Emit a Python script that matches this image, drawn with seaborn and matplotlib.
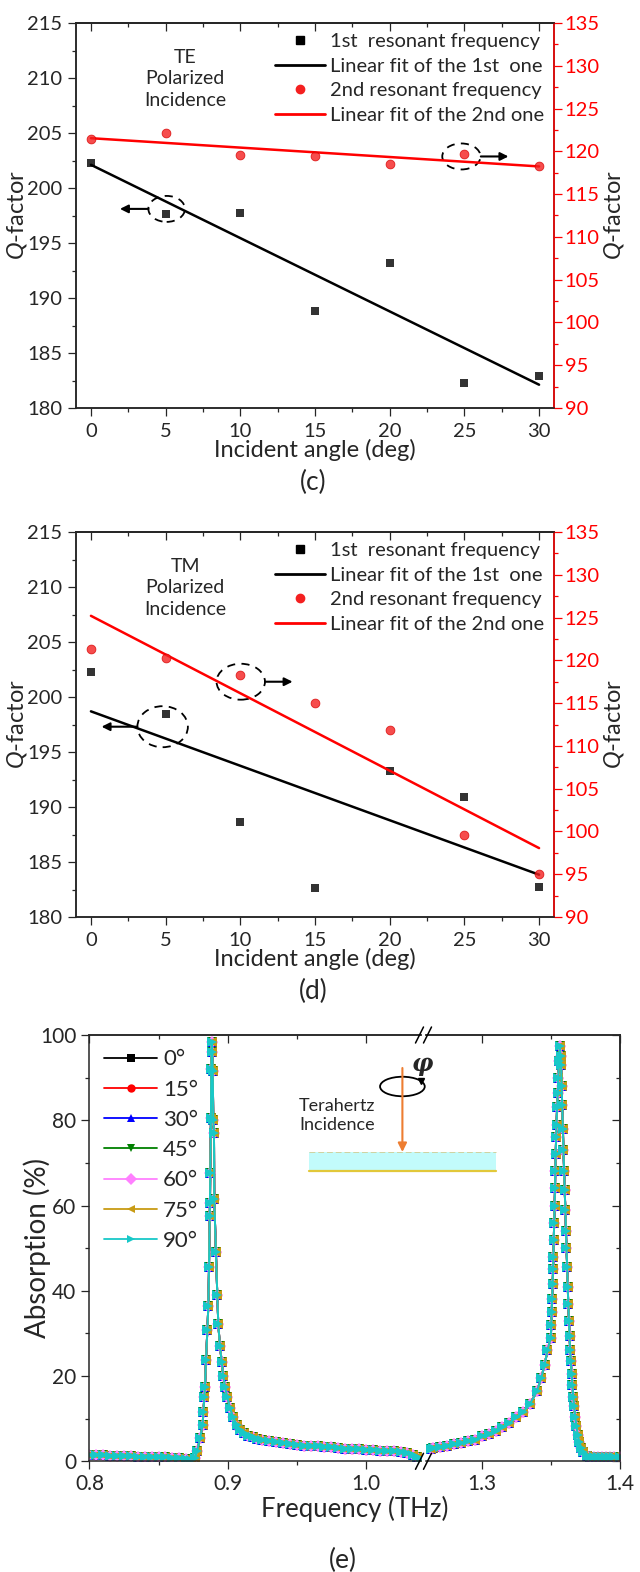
import numpy as np
import pandas as pd
import matplotlib.pyplot as plt
import seaborn as sns
from matplotlib.lines import Line2D
from matplotlib.patches import Ellipse, Rectangle
from matplotlib.ticker import MultipleLocator

# Q-factor vs incident angle
angles = np.array([0, 5, 10, 15, 20, 25, 30])
te_q1 = np.array([202.3, 197.6, 197.7, 188.8, 193.2, 182.3, 182.9])
te_q2 = np.array([121.4, 122.2, 119.6, 119.5, 118.5, 119.7, 118.3])
tm_q1 = np.array([202.3, 198.5, 188.6, 182.6, 193.3, 190.9, 182.7])
tm_q2 = np.array([121.3, 120.3, 118.3, 115.0, 111.9, 99.6, 95.0])
q_legend = ['1st  resonant frequency', 'Linear fit of the 1st  one',
            '2nd resonant frequency', 'Linear fit of the 2nd one']

# absorption spectra for the rotation angles (all curves overlap)
rot_labels = ['0°', '15°', '30°', '45°', '60°', '75°', '90°']
rot_colors = ['black', '#ff0000', '#0000ff', '#008000', '#ff80ff', '#c89b14', '#18c8c8']
rot_markers = ['s', 'o', '^', 'v', 'D', '<', '>']

freq_low = [0.800, 0.805, 0.810, 0.815, 0.820, 0.825, 0.830, 0.835, 0.840, 0.845, 0.850, 0.855, 0.860, 0.865, 0.870, 0.8735,
            0.8764, 0.8780, 0.8800, 0.8819, 0.8824, 0.8831, 0.8836, 0.8843, 0.8853, 0.8860, 0.8865, 0.8870, 0.8872, 0.8874, 0.8879, 0.8881, 0.8884,
            0.8889, 0.8892, 0.8896, 0.8901, 0.8903, 0.8915, 0.8925, 0.8932, 0.8944, 0.8957, 0.8968, 0.8981, 0.8997, 0.9017, 0.9040, 0.9065,
            0.9090, 0.9120, 0.9150, 0.9180, 0.9210, 0.9250, 0.9300, 0.9350, 0.9400, 0.9450, 0.9500, 0.9550, 0.9600, 0.9650, 0.9700, 0.9750,
            0.9800, 0.9850, 0.9900, 0.9950, 1.0000, 1.0050, 1.0100, 1.0150, 1.0200, 1.0250, 1.0300, 1.0340, 1.0370, 1.0395]
abs_low = [1.5, 1.4, 1.4, 1.3, 1.3, 1.2, 1.2, 1.1, 1.1, 1.0, 1.0, 0.9, 0.8, 0.7, 0.5, 0.3,
           0.7, 2.5, 5.4, 8.5, 11.6, 15.0, 17.5, 23.7, 30.7, 36.5, 45.5, 57.5, 60.7, 67.7, 80.5, 92.0, 98.4,
           96.0, 91.5, 80.0, 77.0, 61.5, 49.0, 39.0, 32.2, 27.0, 23.4, 20.0, 17.5, 15.0, 12.5, 10.3, 8.6,
           7.4, 6.6, 6.0, 5.6, 5.3, 5.0, 4.7, 4.5, 4.3, 4.1, 3.9, 3.7, 3.6, 3.5, 3.4, 3.3,
           3.1, 3.0, 2.9, 2.8, 2.7, 2.6, 2.5, 2.4, 2.3, 2.2, 1.9, 1.5, 1.0, 0.5]

freq_high = [1.2632, 1.2650, 1.2700, 1.2750, 1.2800, 1.2850, 1.2900, 1.2950, 1.3000, 1.3050, 1.3100, 1.3150, 1.3200, 1.3250, 1.3300, 1.3350, 1.3400, 1.3430, 1.3455, 1.3475,
             1.3500, 1.3503, 1.3506, 1.3509, 1.3513, 1.3516, 1.3518, 1.3521, 1.3524, 1.3527, 1.3530, 1.3532, 1.3535, 1.3538, 1.3541, 1.3545, 1.3550, 1.3554, 1.3559, 1.3565,
             1.3570, 1.3574, 1.3578, 1.3582, 1.3587, 1.3591, 1.3596, 1.3600, 1.3605, 1.3609, 1.3613, 1.3618, 1.3622, 1.3626, 1.3631, 1.3635, 1.3640, 1.3644, 1.3650,
             1.3656, 1.3662, 1.3668, 1.3676, 1.3685, 1.3695, 1.3706, 1.3720, 1.3735, 1.3760, 1.3780, 1.3810, 1.3840, 1.3870, 1.3900, 1.3930, 1.3960, 1.4000]
abs_high = [3.0, 3.1, 3.4, 3.7, 4.0, 4.3, 4.7, 5.1, 5.9, 6.5, 7.2, 8.0, 9.0, 10.3, 11.5, 13.5, 16.5, 19.5, 22.6, 26.0,
            29.0, 32.0, 35.0, 38.0, 41.7, 45.0, 48.0, 52.0, 56.0, 60.0, 64.0, 68.0, 72.0, 76.0, 79.0, 83.0, 86.5, 90.0, 94.0, 97.4,
            95.0, 93.0, 88.0, 83.6, 78.0, 73.0, 68.0, 63.6, 59.0, 54.0, 50.0, 45.5, 41.0, 36.9, 33.0, 29.3, 26.0, 23.5, 20.5,
            17.8, 15.2, 13.0, 10.5, 8.3, 6.2, 4.5, 3.2, 2.1, 1.3, 1.0, 0.9, 0.9, 0.9, 0.9, 0.9, 0.9, 0.9]

sns.set_style('ticks')
plt.rcParams['font.family'] = ['Lato', 'DejaVu Sans']
plt.rcParams['mathtext.fontset'] = 'custom'
plt.rcParams['mathtext.it'] = 'Lato:italic'
plt.rcParams['mathtext.rm'] = 'Lato'
plt.rcParams['axes.linewidth'] = 1.1

W, H = 640, 1572
fig = plt.figure(figsize=(W / 100, H / 100), dpi=100)


def px_rect(x0, y0, x1, y1):
    return [x0 / W, 1 - y1 / H, (x1 - x0) / W, (y1 - y0) / H]


def q_panel(box, q1, q2, pol, black_mark, red_mark):
    ax = fig.add_axes(px_rect(*box))
    ax2 = ax.twinx()
    sns.regplot(x=angles, y=q1, ax=ax, ci=None, marker='s', color='black',
                scatter_kws={'s': 32, 'linewidths': 0, 'zorder': 3}, line_kws={'lw': 1.8})
    sns.regplot(x=angles, y=q2, ax=ax2, ci=None, marker='o', color='#f42020',
                scatter_kws={'s': 40, 'linewidths': 0.6, 'edgecolors': '#d80000', 'zorder': 3},
                line_kws={'lw': 1.8, 'color': '#ff0000'})
    ax.set_xlim(-1, 31)
    ax.set_ylim(180, 215)
    ax2.set_ylim(90, 135)
    ax.set_xlabel('Incident angle (deg)', fontsize=17)
    ax.set_ylabel(r'$\mathit{Q}$-factor', fontsize=17)
    ax2.set_ylabel(r'$\mathit{Q}$-factor', fontsize=17)
    ax.xaxis.set_label_coords(0.5, -0.08)
    ax.yaxis.set_label_coords(-0.099, 0.5)
    ax2.yaxis.set_label_coords(1.10, 0.5)
    for a in (ax.xaxis, ax.yaxis, ax2.yaxis):
        a.set_major_locator(MultipleLocator(5))
        a.set_minor_locator(MultipleLocator(2.5))
    ax.tick_params(which='major', length=5.8, width=0.9, labelsize=14.5, pad=4.2)
    ax.tick_params(which='minor', length=3, width=0.9)
    ax.tick_params(axis='x', pad=5)
    ax2.tick_params(which='major', length=5.8, width=0.9, labelsize=14.5, pad=2)
    ax2.tick_params(which='minor', length=3, width=0.9)
    ax2.tick_params(axis='y', which='both', colors='#ff0000')
    ax2.spines['right'].set_color('#ff0000')
    top = ax.secondary_xaxis('top')
    top.xaxis.set_major_locator(MultipleLocator(5))
    top.xaxis.set_minor_locator(MultipleLocator(2.5))
    top.tick_params(which='both', direction='in', labeltop=False, width=0.9)
    top.tick_params(which='major', length=5.8)
    top.tick_params(which='minor', length=3)

    ax.text(6.3, 0.855, pol, transform=ax.get_xaxis_transform(), ha='center', va='center',
            fontsize=14, linespacing=1.34)

    for a, (cx, cy, w, h, x0, x1) in ((ax, black_mark), (ax2, red_mark)):
        a.add_patch(Ellipse((cx, cy), w, h, fill=False, ec='black', lw=1.3, ls=(0, (4.5, 3.5))))
        a.annotate('', xy=(x1, cy), xytext=(x0, cy),
                   arrowprops=dict(arrowstyle='-|>', color='black', lw=1.5, mutation_scale=12,
                                   shrinkA=0, shrinkB=0))

    handles = [Line2D([], [], ls='none', marker='s', color='black', ms=5.5),
               Line2D([], [], color='black', lw=2),
               Line2D([], [], ls='none', marker='o', color='#f42020', ms=6),
               Line2D([], [], color='#ff0000', lw=2)]
    ax2.legend(handles, q_legend, loc='upper right', bbox_to_anchor=(1.0, 1.0), frameon=False,
               fontsize=14.5, handlelength=2.45, handletextpad=0.25, labelspacing=0.37,
               borderaxespad=0.2, borderpad=0.3)
    return ax, ax2


q_panel((76, 23, 554, 408), te_q1, te_q2, 'TE\nPolarized\nIncidence',
        (5.07, 198.1, 2.45, 2.36, 3.85, 1.94), (24.8, 119.4, 2.56, 3.04, 26.1, 27.95))
q_panel((76, 532, 554, 917), tm_q1, tm_q2, 'TM\nPolarized\nIncidence',
        (4.8, 197.3, 3.38, 3.73, 3.1, 0.71), (10.03, 117.5, 3.24, 4.2, 11.66, 13.5))

# absorption panel with broken frequency axis
ax_l = fig.add_axes(px_rect(89.4, 1035, 421, 1461.3))
ax_r = fig.add_axes(px_rect(426, 1035, 620, 1461.3))
for lab, col, mk in zip(rot_labels, rot_colors, rot_markers):
    for a, fx, ay in ((ax_l, freq_low, abs_low), (ax_r, freq_high, abs_high)):
        sns.lineplot(x=fx, y=ay, ax=a, color=col, marker=mk,
                     markersize=6.0 if mk == 'D' else 6.8, markeredgewidth=0,
                     lw=1.4, estimator=None, sort=False, legend=False)
ax_l.set_xlim(0.8, 1.0398)
ax_r.set_xlim(1.2597, 1.4)
for a in (ax_l, ax_r):
    a.set_ylim(0, 100)
    a.xaxis.set_major_locator(MultipleLocator(0.1))
    a.xaxis.set_minor_locator(MultipleLocator(0.05))
    a.tick_params(which='major', length=5.8, width=0.9, labelsize=15, pad=3.5)
    a.tick_params(which='minor', length=3, width=0.9)
    top = a.secondary_xaxis('top')
    top.xaxis.set_major_locator(MultipleLocator(0.1))
    top.xaxis.set_minor_locator(MultipleLocator(0.05))
    top.tick_params(which='both', direction='in', labeltop=False, width=0.9)
    top.tick_params(which='major', length=5.8)
    top.tick_params(which='minor', length=3)
ax_l.yaxis.set_major_locator(MultipleLocator(20))
ax_l.yaxis.set_minor_locator(MultipleLocator(10))
ax_l.spines['right'].set_visible(False)
ax_r.spines['left'].set_visible(False)
ax_r.tick_params(axis='y', which='both', left=False, labelleft=False)
rsec = ax_r.secondary_yaxis('right')
rsec.yaxis.set_major_locator(MultipleLocator(20))
rsec.yaxis.set_minor_locator(MultipleLocator(10))
rsec.tick_params(which='both', direction='in', labelright=False, width=0.9)
rsec.tick_params(which='major', length=5.8)
rsec.tick_params(which='minor', length=3)
ax_l.set_xlabel('')
ax_r.set_xlabel('')
ax_r.set_ylabel('')
ax_l.set_ylabel('Absorption (%)', fontsize=20)
ax_l.yaxis.set_label_coords(-0.116, 0.5)

rot_handles = [Line2D([], [], color=c, marker=m, ms=6, mew=0, lw=1.3)
               for c, m in zip(rot_colors, rot_markers)]
ax_l.legend(rot_handles, rot_labels, loc='upper left', frameon=False, fontsize=16,
            handlelength=2.4, handletextpad=0.27, labelspacing=0.46, borderaxespad=0.2, borderpad=0.45)

# overlay in pixel units for the schematic, break marks and panel letters
ov = fig.add_axes([0, 0, 1, 1])
ov.set_xlim(0, W)
ov.set_ylim(H, 0)
ov.axis('off')
for yb in (1035, 1461.3):
    for xb in (419.5, 427.5):
        ov.plot([xb - 4, xb + 4], [yb + 8, yb - 8], color='black', lw=1.1)
ov.add_patch(Rectangle((309, 1151.5), 187, 19, facecolor='#c2fbfb', edgecolor='none'))
ov.plot([309, 496], [1170.5, 1170.5], color='#e2c83a', lw=1.6)
ov.plot([309, 496], [1152, 1152], color='#cfd2a0', lw=0.7, ls=(0, (6, 3)))
ov.add_patch(Ellipse((402.4, 1086.5), 44.7, 19.5, fill=False, ec='black', lw=1.3))
ov.plot([421], [1081], marker='v', color='black', ms=4)
ov.annotate('', xy=(402.4, 1152), xytext=(402.4, 1068),
            arrowprops=dict(arrowstyle='-|>', color='#ed7d31', lw=1.5, mutation_scale=13,
                            shrinkA=0, shrinkB=0))
ov.text(422.8, 1064, 'φ', fontsize=17, style='italic', fontweight='bold',
        family=['DejaVu Serif'], ha='center', va='center')
ov.text(299, 1115.5, 'Terahertz\nIncidence', fontsize=13, ha='left', va='center', linespacing=1.2)

ov.text(354.5, 1496, 'Frequency (THz)', fontsize=18.5, ha='center', va='top')
ov.text(313, 482, '(c)', fontsize=19, ha='center', va='center')
ov.text(313, 991, '(d)', fontsize=19, ha='center', va='center')
ov.text(343, 1560, '(e)', fontsize=19, ha='center', va='center')

fig.savefig('out.png', dpi=100)
